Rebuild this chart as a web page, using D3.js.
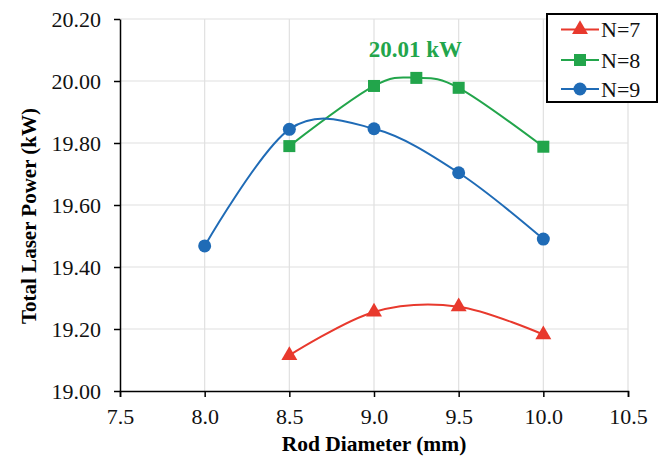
<!DOCTYPE html>
<html>
<head>
<meta charset="utf-8">
<script src="https://cdn.jsdelivr.net/npm/d3@7"></script>
<style>
  body { margin: 0; background: #fff; }
  text { font-family: "Liberation Serif", "Times New Roman", serif; }
</style>
</head>
<body>
<div id="chart"></div>
<script>
// Data
const seriesNames = ["N=7", "N=8", "N=9"];
const seriesColors = ["#e8392d", "#22a54b", "#1f6bb6"];
const seriesShapes = ["triangle", "square", "circle"];
const n7 = [[8.5, 19.115], [9.0, 19.255], [9.5, 19.272], [10.0, 19.182]];
const n8 = [[8.5, 19.790], [9.0, 19.984], [9.25, 20.010], [9.5, 19.978], [10.0, 19.788]];
const n9 = [[8.0, 19.468], [8.5, 19.844], [9.0, 19.846], [9.5, 19.704], [10.0, 19.490]];
const xTicks = [7.5, 8.0, 8.5, 9.0, 9.5, 10.0, 10.5];
const yTicks = [19.0, 19.2, 19.4, 19.6, 19.8, 20.0, 20.2];
const peakLabel = "20.01 kW";

const width = 672;
const height = 459;
const margin = {top: 19, right: 44, bottom: 68, left: 120};

const svg = d3.select("#chart").append("svg")
    .attr("width", width)
    .attr("height", height);

const x = d3.scaleLinear().domain([7.5, 10.5]).range([margin.left, width - margin.right]);
const y = d3.scaleLinear().domain([19.0, 20.2]).range([height - margin.bottom, margin.top]);

// Gridlines
svg.append("g").selectAll("line.h")
    .data(yTicks.slice(1))
    .enter().append("line")
    .attr("x1", x(7.5)).attr("x2", x(10.5))
    .attr("y1", d => y(d)).attr("y2", d => y(d))
    .attr("stroke", "#e0e0e0").attr("stroke-width", 1.2);

svg.append("g").selectAll("line.v")
    .data(xTicks.slice(1))
    .enter().append("line")
    .attr("x1", d => x(d)).attr("x2", d => x(d))
    .attr("y1", y(19.0)).attr("y2", y(20.2))
    .attr("stroke", "#e0e0e0").attr("stroke-width", 1.2);

// Axes
const xAxis = d3.axisBottom(x).tickValues(xTicks).tickFormat(d3.format(".1f")).tickSizeInner(6).tickSizeOuter(6);
const yAxis = d3.axisLeft(y).tickValues(yTicks).tickFormat(d3.format(".2f")).tickSizeInner(6).tickSizeOuter(0);

const gx = svg.append("g")
    .attr("transform", `translate(0,${y(19.0)})`)
    .call(xAxis);
const gy = svg.append("g")
    .attr("transform", `translate(${x(7.5)},0)`)
    .call(yAxis);

[gx, gy].forEach(g => {
  g.attr("font-family", "'Liberation Serif', serif").attr("font-size", 22);
  g.select(".domain").attr("stroke", "#000").attr("stroke-width", 1.5);
  g.selectAll(".tick line").attr("stroke", "#000").attr("stroke-width", 1.5);
  g.selectAll(".tick text").attr("fill", "#111");
});
gx.selectAll(".tick text").attr("y", 12).attr("dy", "0.95em");
gy.selectAll(".tick text").attr("x", -19);

// Axis titles
svg.append("text")
    .attr("x", x(9.0))
    .attr("y", 451)
    .attr("text-anchor", "middle")
    .style("font-size", "21.5px")
    .style("font-weight", "bold")
    .text("Rod Diameter (mm)");

svg.append("text")
    .attr("transform", `translate(36,${216}) rotate(-90)`)
    .attr("text-anchor", "middle")
    .style("font-size", "21px")
    .style("font-weight", "bold")
    .text("Total Laser Power (kW)");

// Lines
const line = d3.line()
    .x(d => x(d[0]))
    .y(d => y(d[1]))
    .curve(d3.curveCardinal.tension(0));

const allSeries = [n7, n8, n9];

function drawMarker(g, shape, color, cx, cy) {
  if (shape === "circle") {
    g.append("circle").attr("cx", cx).attr("cy", cy).attr("r", 6.5).attr("fill", color);
  } else if (shape === "square") {
    g.append("rect").attr("x", cx - 6).attr("y", cy - 6).attr("width", 12).attr("height", 12).attr("fill", color);
  } else {
    g.append("path")
        .attr("d", d3.symbol().type(d3.symbolTriangle).size(110)())
        .attr("transform", `translate(${cx},${cy})`)
        .attr("fill", color);
  }
}

allSeries.forEach((data, i) => {
  svg.append("path")
      .datum(data)
      .attr("d", line)
      .attr("fill", "none")
      .attr("stroke", seriesColors[i])
      .attr("stroke-width", 2);
});

allSeries.forEach((data, i) => {
  const g = svg.append("g");
  data.forEach(d => drawMarker(g, seriesShapes[i], seriesColors[i], x(d[0]), y(d[1])));
});

// Peak annotation
svg.append("text")
    .attr("x", x(9.25) - 1)
    .attr("y", 57)
    .attr("text-anchor", "middle")
    .attr("fill", seriesColors[1])
    .style("font-size", "23px")
    .style("font-weight", "bold")
    .text(peakLabel);

// Legend
const legend = svg.append("g");
legend.append("rect")
    .attr("x", 547).attr("y", 14)
    .attr("width", 110).attr("height", 88)
    .attr("fill", "#fff")
    .attr("stroke", "#000")
    .attr("stroke-width", 2);

const legendY = [29.5, 60, 89];
seriesNames.forEach((name, i) => {
  const ly = legendY[i];
  legend.append("line")
      .attr("x1", 561).attr("x2", 599)
      .attr("y1", ly).attr("y2", ly)
      .attr("stroke", seriesColors[i]).attr("stroke-width", 2);
  drawMarker(legend, seriesShapes[i], seriesColors[i], 580, ly);
  legend.append("text")
      .attr("x", 601)
      .attr("y", ly)
      .attr("dy", "0.35em")
      .attr("fill", "#111")
      .style("font-size", "22px")
      .text(name);
});
</script>
</body>
</html>
